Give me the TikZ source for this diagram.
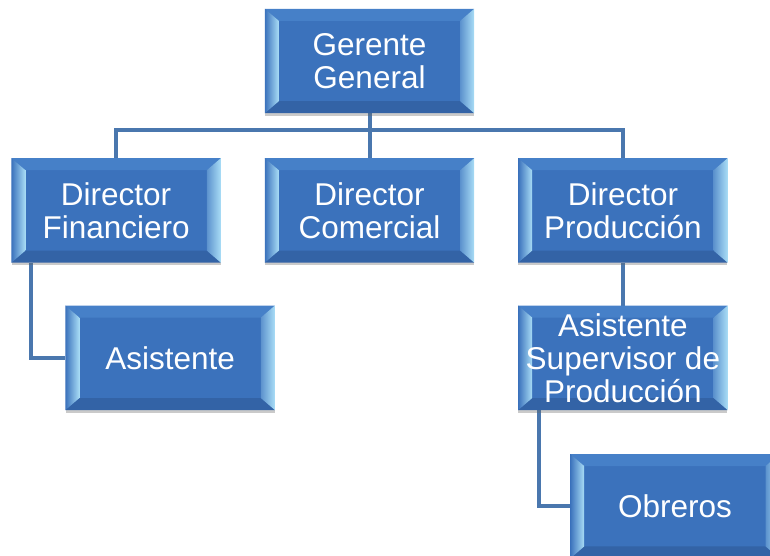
\documentclass[tikz,border=0pt]{standalone}
\usepackage{fontspec}
\setmainfont{Liberation Sans}
\usetikzlibrary{positioning,calc,shadows,backgrounds}

\definecolor{boxblue}{HTML}{3B72BC}
\definecolor{bevlight}{HTML}{A9DDF6}
\definecolor{bevtop}{HTML}{4680C8}
\definecolor{bevbot}{HTML}{3363A6}
\definecolor{linkblue}{HTML}{4A77AE}

\begin{document}
\begin{tikzpicture}[
    x=1pt, y=1pt,
    box/.style={fill=boxblue, minimum width=209pt, minimum height=104pt, inner sep=0pt,
        drop shadow={shadow xshift=0pt, shadow yshift=-3pt, opacity=0.35, fill=black!60}},
    label/.style={align=center, text=white, inner sep=0pt, font=\fontsize{31.5}{33}\selectfont},
    conn/.style={draw=linkblue, line width=4pt},
    node distance=45pt and 44pt
]
\useasboundingbox (0,0) rectangle (770,-556);

\node[box] (gg) at (369.5,-61) {};
\node[box, below=of gg] (dc) {};
\node[box, left=of dc] (df) {};
\node[box, right=of dc] (dp) {};
\node[box, below=43pt of df, xshift=54pt] (as) {};
\node[box, below=43pt of dp] (sup) {};
\node[box, below=44pt of sup, xshift=52pt] (ob) {};

% bevelled frame on every box
\foreach \n in {gg,dc,df,dp,as,sup,ob} {
  \coordinate (a) at (\n.north west);
  \coordinate (b) at (\n.north east);
  \coordinate (c) at (\n.south east);
  \coordinate (d) at (\n.south west);
  \coordinate (ia) at ($(a)+(14,-12)$);
  \coordinate (ib) at ($(b)+(-14,-12)$);
  \coordinate (ic) at ($(c)+(-14,12)$);
  \coordinate (id) at ($(d)+(14,12)$);
  \fill[bevtop] (a) -- (b) -- (ib) -- (ia) -- cycle;
  \fill[bevbot] (d) -- (c) -- (ic) -- (id) -- cycle;
  \shade[left color=boxblue, right color=bevlight] (a) -- (ia) -- (id) -- (d) -- cycle;
  \shade[left color=boxblue!70!bevlight, right color=bevlight] (b) -- (ib) -- (ic) -- (c) -- cycle;
}

% texts
\foreach \n/\t in {gg/{Gerente\\General}, dc/{Director\\Comercial}, df/{Director\\Financiero},
    dp/{Director\\Producción}, as/{Asistente}, sup/{Asistente\\Supervisor de\\Producción}, ob/{Obreros}}
  \node[label] (t-\n) at (\n) {\t};

% connectors
\begin{scope}[on background layer]
  \draw[conn] (gg.south) -- ++(0,-17) coordinate (bar) -| (df.north);
  \draw[conn] (bar) -| (dp.north);
  \draw[conn] (gg) -- (dc);
  \draw[conn] ($(df.south west)+(20,0)$) |- (as.west);
  \draw[conn] (dp) -- (sup);
  \draw[conn] ($(sup.south west)+(21,0)$) |- (ob.west);
\end{scope}
\end{tikzpicture}
\end{document}
